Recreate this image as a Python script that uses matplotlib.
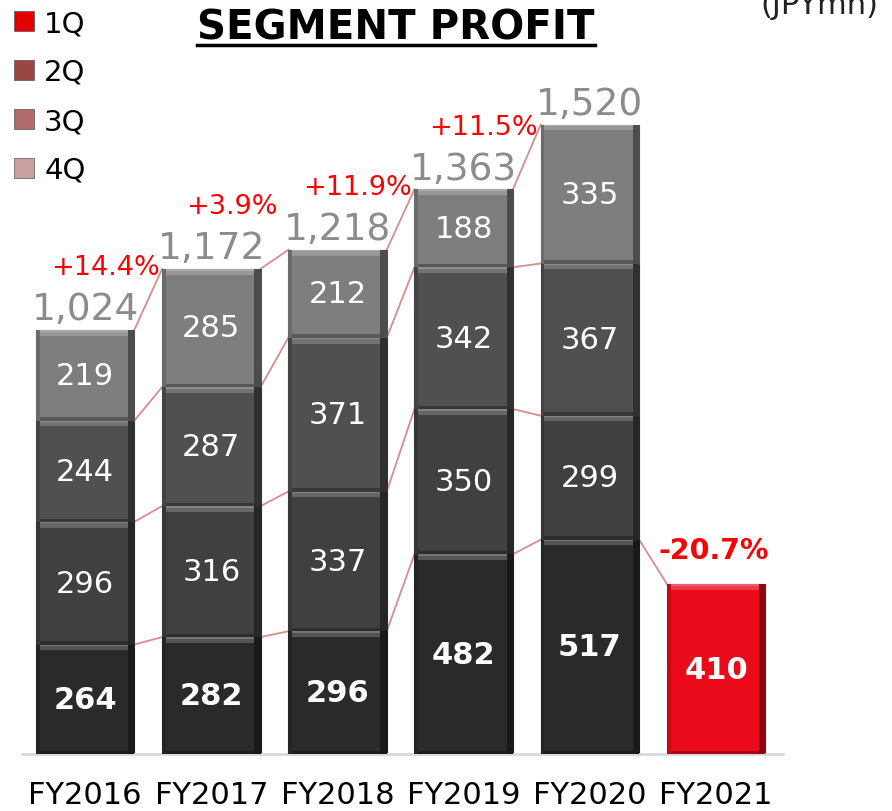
import matplotlib
matplotlib.use('Agg')
import matplotlib.pyplot as plt
from matplotlib.colors import to_rgb
from matplotlib.lines import Line2D

years = ['FY2016', 'FY2017', 'FY2018', 'FY2019', 'FY2020', 'FY2021']
q1 = [264, 282, 296, 482, 517, 410]
q2 = [296, 316, 337, 350, 299]
q3 = [244, 287, 371, 342, 367]
q4 = [219, 285, 212, 188, 335]
totals = [1024, 1172, 1218, 1363, 1520]
growth = ['+14.4%', '+3.9%', '+11.9%', '+11.5%']
growth_2021 = '-20.7%'
quarters = ['1Q', '2Q', '3Q', '4Q']

seg_colors = ['#2a2a2a', '#404040', '#505050', '#7e7e7e']
red = '#ea0a1a'
legend_colors = ['#e30000', '#9c4545', '#b06a6a', '#c9a0a0']
line_color = '#d98c8c'
w = 0.78


def shade(c, f):
    r, g, b = to_rgb(c)
    if f > 0:
        return (r + (1 - r) * f, g + (1 - g) * f, b + (1 - b) * f)
    return (r * (1 + f), g * (1 + f), b * (1 + f))


def bevel_bar(ax, x, bottom, h, c):
    # main body + lighter top band, darker right and bottom edges
    ax.bar(x, h, w, bottom=bottom, color=c, edgecolor=shade(c, -0.35), linewidth=0.8, zorder=2)
    ax.bar(x, 14, w, bottom=bottom + h - 14, color=shade(c, 0.2), linewidth=0, zorder=3)
    ax.bar(x, 4, w, bottom=bottom + h - 4, color=shade(c, 0.35), linewidth=0, zorder=3)
    ax.bar(x, 8, w, bottom=bottom, color=shade(c, -0.3), linewidth=0, zorder=3)
    ax.bar(x + w / 2 - 0.025, h, 0.05, bottom=bottom, color=shade(c, -0.4), linewidth=0, zorder=3)
    ax.bar(x - w / 2 + 0.015, h, 0.03, bottom=bottom, color=shade(c, -0.15), linewidth=0, zorder=3)


fig = plt.figure(figsize=(8.92, 8.12), dpi=100)
ax = fig.add_axes([22 / 892, 57 / 812, 761 / 892, 755 / 812])
ax.set_xlim(-0.5, 5.53)
ax.set_ylim(0, 1821)

stacks = [q1[:5], q2, q3, q4]
cum = [[0] * 5]
for s in stacks:
    cum.append([a + b for a, b in zip(cum[-1], s)])

for i in range(5):
    for k in range(4):
        bottom = cum[k][i]
        h = stacks[k][i]
        bevel_bar(ax, i, bottom, h, seg_colors[k])
        ax.text(i, bottom + h / 2, str(h), ha='center', va='center', color='white',
                fontsize=22, fontweight='bold' if k == 0 else 'normal', zorder=5)
    ax.text(i, totals[i] + 5, f'{totals[i]:,}', ha='center', va='bottom', color='#8c8c8c',
            fontsize=27, zorder=5)

# FY2021 red bar
bevel_bar(ax, 5, 0, q1[5], red)
ax.text(5, q1[5] / 2, str(q1[5]), ha='center', va='center', color='white',
        fontsize=22, fontweight='bold', zorder=5)

# connector lines between cumulative levels
for i in range(4):
    for k in range(1, 5):
        ax.plot([i + w / 2, i + 1 - w / 2], [cum[k][i], cum[k][i + 1]], color=line_color, lw=1.3, zorder=1)
ax.plot([4 + w / 2, 5 - w / 2], [q1[4], q1[5]], color=line_color, lw=1.3, zorder=1)

# growth labels
for i, g in enumerate(growth):
    ax.text(i + 0.16, totals[i] + 150, g, ha='center', va='center', color='#ff0000', fontsize=19.5, zorder=5)
ax.text(4.98, 492, growth_2021, ha='center', va='center', color='#ff0000', fontsize=20.5,
        fontweight='bold', zorder=5)

for side in ['top', 'right', 'left']:
    ax.spines[side].set_visible(False)
ax.spines['bottom'].set_color('#d9d9d9')
ax.spines['bottom'].set_linewidth(2)
ax.set_yticks([])
ax.set_xticks(range(6))
ax.set_xticklabels(years, fontsize=22)
ax.tick_params(axis='x', length=0, pad=19)

# title with underline
fig.text(396 / 892, 1 - 28 / 812, 'SEGMENT PROFIT', ha='center', va='center', fontsize=29,
         fontweight='bold', color='black')
fig.add_artist(Line2D([197 / 892, 595 / 892], [1 - 46 / 812, 1 - 46 / 812], color='black', lw=2.5))

fig.text(760 / 892, 1 - 14 / 812, '(JPYmn)', ha='left', va='baseline', fontsize=22, color='#222222')

handles = [Line2D([], [], marker='s', linestyle='none', markersize=14, markerfacecolor=c,
                  markeredgecolor='#555555', markeredgewidth=0.5) for c in legend_colors]
fig.legend(handles, quarters, loc='upper left', bbox_to_anchor=(12 / 892, 1 - 10 / 812), frameon=False,
           fontsize=21, handlelength=0.8, handletextpad=0.3, labelspacing=0.72, borderaxespad=0.0,
           borderpad=0.0)

fig.savefig('out.png', dpi=100)
